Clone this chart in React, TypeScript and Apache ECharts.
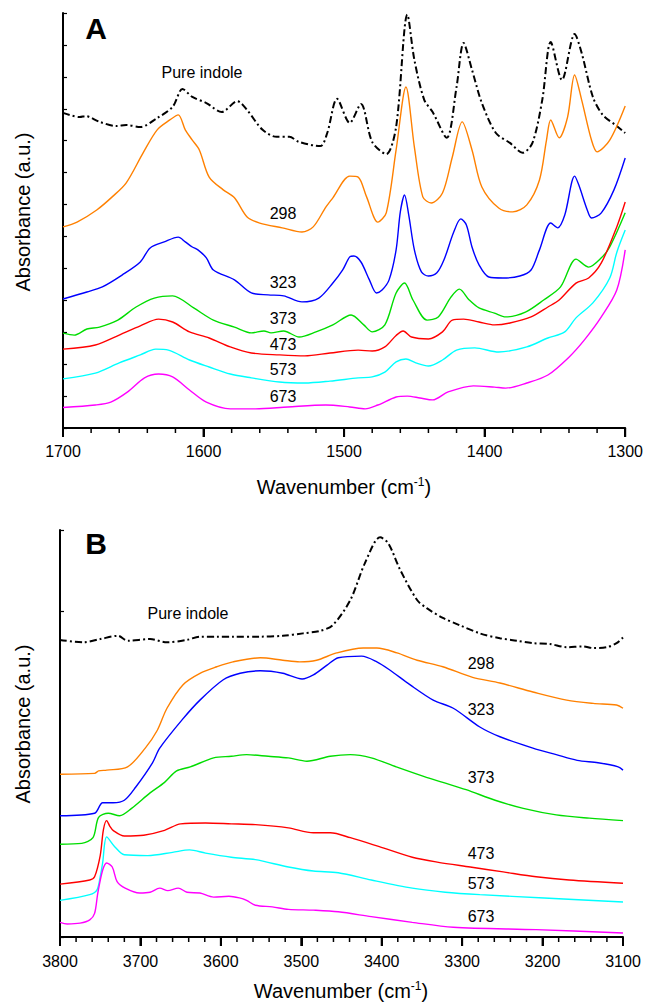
import React, { useEffect, useRef } from "react";
import * as echarts from "echarts";

// ---------- Panel A (1700-1300 cm-1) : [wavenumber, absorbance a.u.] ----------
const indoleA = [[1700,9.87],[1688,9.74],[1684,9.77],[1674,9.59],[1662,9.46],[1655,9.49],[1645,9.43],[1633,9.71],[1622,10.06],[1615,10.62],[1608,10.37],[1598,10.18],[1587,9.9],[1576,10.24],[1569,9.96],[1558,9.34],[1548,9.12],[1539,9.12],[1532,8.96],[1517,8.83],[1512,9.24],[1505,10.31],[1496,9.56],[1488,10.15],[1480,8.96],[1470,8.58],[1463,9.43],[1455,12.95],[1450,11.53],[1443,10.28],[1437,9.9],[1427,9.09],[1420,10.68],[1415,12.06],[1409,11.22],[1402,10.18],[1392,9.24],[1382,8.93],[1373,8.62],[1366,8.93],[1359,10.28],[1353,12.09],[1345,10.9],[1336,12.34],[1331,11.75],[1323,10.37],[1316,9.81],[1306,9.46],[1300,9.24]];
const k298A = [[1700,6.3],[1690,6.45],[1676,6.83],[1665,7.24],[1655,7.68],[1643,8.62],[1633,9.34],[1624,9.65],[1618,9.81],[1613,9.34],[1608,9.02],[1603,8.71],[1596,7.86],[1586,7.46],[1578,7.21],[1569,6.61],[1560,6.42],[1544,6.27],[1530,6.14],[1522,6.3],[1513,6.92],[1508,7.21],[1496,7.89],[1490,7.86],[1484,7.24],[1476,6.45],[1470,6.74],[1463,8.71],[1456,10.68],[1450,8.8],[1444,7.24],[1438,7.05],[1430,7.36],[1423,8.49],[1416,9.59],[1409,8.71],[1402,7.55],[1390,6.89],[1380,6.77],[1370,6.99],[1361,7.77],[1356,9.02],[1353,9.65],[1347,9.09],[1341,9.74],[1336,11.06],[1331,10.28],[1324,9.02],[1320,8.65],[1311,9.02],[1300,10.09]];
const k323A = [[1700,4.04],[1683,4.26],[1672,4.42],[1658,4.79],[1645,5.2],[1638,5.64],[1628,5.83],[1618,5.98],[1613,5.83],[1608,5.67],[1604,5.58],[1598,5.33],[1593,4.95],[1578,4.64],[1566,4.23],[1554,4.17],[1543,4.14],[1530,3.95],[1518,4.07],[1508,4.54],[1501,4.95],[1496,5.36],[1493,5.39],[1488,5.2],[1482,4.64],[1477,4.23],[1473,4.32],[1468,4.64],[1463,5.58],[1460,6.77],[1457,7.3],[1454,6.67],[1450,5.58],[1445,4.89],[1440,4.76],[1434,4.86],[1429,5.26],[1422,6.14],[1417,6.55],[1413,6.36],[1409,5.67],[1404,5.11],[1397,4.73],[1387,4.7],[1375,4.76],[1367,4.95],[1361,5.58],[1353,6.42],[1348,6.27],[1343,6.67],[1336,7.89],[1333,7.61],[1327,6.83],[1324,6.58],[1317,6.74],[1308,7.46],[1300,8.46]];
const k373A = [[1700,2.97],[1692,2.91],[1683,3.1],[1674,3.16],[1661,3.38],[1648,3.79],[1635,4.07],[1622,4.14],[1607,3.76],[1593,3.38],[1578,3.16],[1566,2.98],[1557,3.04],[1552,2.98],[1543,3.04],[1532,2.85],[1520,3.01],[1508,3.23],[1495,3.54],[1486,3.23],[1480,3.01],[1471,3.23],[1463,4.23],[1457,4.54],[1451,4.01],[1441,3.38],[1433,3.48],[1424,4.1],[1418,4.35],[1411,4.01],[1404,3.76],[1393,3.6],[1385,3.48],[1371,3.63],[1358,4.01],[1346,4.42],[1335,5.29],[1326,5.04],[1317,5.33],[1311,5.67],[1300,6.74]];
const k473A = [[1700,2.47],[1677,2.6],[1660,2.91],[1645,3.2],[1632,3.41],[1622,3.32],[1610,3.01],[1596,2.82],[1581,2.54],[1566,2.35],[1546,2.29],[1528,2.26],[1510,2.35],[1490,2.44],[1480,2.41],[1471,2.54],[1463,2.9],[1458,3.04],[1452,2.85],[1440,2.79],[1430,3.01],[1423,3.38],[1415,3.41],[1404,3.32],[1393,3.23],[1382,3.29],[1367,3.48],[1355,3.79],[1347,4.01],[1335,4.54],[1326,4.7],[1317,5.17],[1306,6.3],[1300,7.08]];
const k573A = [[1700,1.54],[1677,1.72],[1660,2.04],[1645,2.29],[1634,2.47],[1625,2.44],[1610,2.13],[1596,1.91],[1581,1.69],[1566,1.57],[1546,1.44],[1528,1.41],[1510,1.47],[1490,1.57],[1480,1.6],[1471,1.75],[1463,2.07],[1456,2.16],[1449,2.04],[1440,1.94],[1430,2.13],[1420,2.44],[1407,2.51],[1390,2.38],[1370,2.54],[1355,2.82],[1343,3.01],[1335,3.45],[1323,3.92],[1311,4.7],[1306,5.5],[1300,6.2]];
const k673A = [[1700,0.64],[1677,0.72],[1666,0.81],[1654,1.13],[1642,1.57],[1632,1.69],[1622,1.6],[1610,1.19],[1598,0.81],[1581,0.6],[1563,0.6],[1540,0.66],[1513,0.72],[1496,0.66],[1485,0.6],[1476,0.72],[1463,0.97],[1455,1.0],[1446,0.94],[1437,0.88],[1426,1.13],[1408,1.32],[1393,1.28],[1385,1.25],[1370,1.41],[1355,1.66],[1340,2.22],[1329,2.76],[1317,3.48],[1306,4.32],[1300,5.58]];

// ---------- Panel B (3800-3100 cm-1) ----------
const indoleB = [[3800,3.65],[3771,3.62],[3750,3.66],[3728,3.7],[3716,3.64],[3688,3.66],[3667,3.62],[3642,3.65],[3626,3.69],[3605,3.69],[3585,3.69],[3551,3.69],[3523,3.7],[3498,3.73],[3477,3.76],[3461,3.83],[3439,4.14],[3421,4.59],[3402,4.91],[3392,4.84],[3377,4.51],[3356,4.14],[3344,4.04],[3324,3.92],[3303,3.83],[3278,3.73],[3253,3.67],[3232,3.64],[3212,3.61],[3191,3.6],[3170,3.56],[3150,3.57],[3137,3.55],[3120,3.56],[3108,3.61],[3100,3.68]];
const k298B = [[3800,2.0],[3757,2.01],[3752,2.04],[3742,2.05],[3716,2.09],[3694,2.32],[3679,2.54],[3667,2.81],[3647,3.1],[3626,3.24],[3605,3.32],[3585,3.38],[3551,3.43],[3523,3.4],[3502,3.38],[3481,3.4],[3456,3.49],[3423,3.55],[3406,3.55],[3381,3.49],[3356,3.4],[3324,3.32],[3287,3.19],[3253,3.12],[3212,3.01],[3170,2.91],[3137,2.87],[3108,2.85],[3100,2.81]];
const k323B = [[3800,1.49],[3757,1.52],[3747,1.65],[3734,1.65],[3720,1.68],[3706,1.84],[3685,2.14],[3676,2.32],[3648,2.67],[3626,2.91],[3597,3.16],[3576,3.24],[3551,3.27],[3523,3.24],[3499,3.17],[3485,3.22],[3468,3.34],[3454,3.43],[3425,3.45],[3406,3.38],[3390,3.28],[3365,3.1],[3336,2.91],[3311,2.81],[3278,2.58],[3253,2.46],[3212,2.32],[3183,2.24],[3157,2.17],[3131,2.14],[3106,2.09],[3100,2.05]];
const k373B = [[3800,1.14],[3773,1.15],[3759,1.22],[3752,1.47],[3740,1.52],[3726,1.49],[3711,1.58],[3688,1.77],[3670,1.9],[3655,2.04],[3638,2.09],[3609,2.2],[3587,2.22],[3568,2.24],[3541,2.22],[3516,2.2],[3493,2.16],[3464,2.22],[3439,2.24],[3413,2.2],[3382,2.09],[3347,1.97],[3324,1.9],[3295,1.81],[3259,1.68],[3224,1.58],[3183,1.5],[3142,1.46],[3100,1.43]];
const k473B = [[3800,0.65],[3763,0.7],[3757,0.74],[3750,1.0],[3746,1.32],[3742,1.43],[3738,1.36],[3734,1.31],[3720,1.24],[3696,1.25],[3670,1.31],[3650,1.39],[3619,1.4],[3587,1.39],[3557,1.38],[3516,1.34],[3485,1.28],[3464,1.28],[3439,1.22],[3403,1.11],[3362,0.98],[3331,0.92],[3290,0.86],[3249,0.8],[3208,0.74],[3167,0.7],[3100,0.66]];
const k573B = [[3800,0.45],[3763,0.52],[3754,0.58],[3750,0.74],[3747,0.91],[3742,1.23],[3732,1.11],[3720,1.01],[3691,1.0],[3660,1.04],[3639,1.07],[3619,1.03],[3587,0.98],[3557,0.95],[3516,0.86],[3485,0.81],[3454,0.79],[3413,0.7],[3362,0.6],[3321,0.55],[3278,0.52],[3198,0.48],[3100,0.43]];
const k673B = [[3800,0.18],[3791,0.16],[3775,0.17],[3763,0.21],[3757,0.29],[3753,0.54],[3747,0.82],[3742,0.91],[3735,0.86],[3729,0.68],[3719,0.6],[3701,0.54],[3688,0.55],[3676,0.6],[3666,0.57],[3653,0.6],[3642,0.55],[3626,0.54],[3609,0.49],[3590,0.5],[3577,0.48],[3568,0.45],[3557,0.39],[3536,0.37],[3516,0.34],[3485,0.33],[3454,0.31],[3413,0.25],[3362,0.18],[3311,0.12],[3208,0.09],[3100,0.05]];

const temperatures = ["298", "323", "373", "473", "573", "673"];
const colors = ["#FF8000", "#0000FF", "#00DD00", "#FF0000", "#00FFFF", "#FF00FF"];
const seriesA = [k298A, k323A, k373A, k473A, k573A, k673A];
const seriesB = [k298B, k323B, k373B, k473B, k573B, k673B];

// x-axis tick values (major every 100, minor every 20)
const tickStep = 20;
const majorStep = 100;
const rangeA = [1300, 1700];
const rangeB = [3100, 3800];

const FONT = "Liberation Sans";

export default function App() {
  const ref = useRef<HTMLDivElement>(null);
  useEffect(() => {
    if (!ref.current) return;
    const chart = echarts.init(ref.current, null, { renderer: "svg" });

    const xAxisBase = (min: number, max: number, grid: number, margin: number) => ({
      type: "value",
      gridIndex: grid,
      position: "bottom",
      min,
      max,
      interval: majorStep,
      inverse: true,
      axisLine: { show: true, onZero: false, lineStyle: { color: "#000", width: 2 } },
      axisTick: { show: true, inside: false, length: 9, lineStyle: { color: "#000", width: 2 } },
      axisLabel: {
        color: "#000",
        fontSize: 16,
        fontFamily: FONT,
        margin,
        formatter: (v: number) => String(v),
      },
      splitLine: { show: false },
    });

    const yAxisBase = (idx: number, max: number, interval: number) => ({
      type: "value",
      gridIndex: idx,
      min: 0,
      max,
      interval,
      axisLine: { show: true, onZero: false, lineStyle: { color: "#000", width: 2 } },
      axisTick: { show: true, inside: true, length: 4, lineStyle: { color: "#000", width: 1.2 } },
      axisLabel: { show: false },
      splitLine: { show: false },
    });

    const lineSeries = (data: number[][], color: string, idx: number, dash?: boolean) => ({
      type: "line",
      xAxisIndex: idx,
      yAxisIndex: idx,
      data,
      symbol: "none",
      smooth: 0.3,
      clip: false,
      lineStyle: dash
        ? { color: "#000", width: 2, type: [7, 3, 2, 3] }
        : { color, width: 1.4 },
    });

    const series: any[] = [];
    series.push(lineSeries(indoleA, "#000", 0, true));
    seriesA.forEach((d, i) => series.push(lineSeries(d, colors[i], 0)));
    series.push(lineSeries(indoleB, "#000", 1, true));
    seriesB.forEach((d, i) => series.push(lineSeries(d, colors[i], 1)));

    const txt = (x: number, y: number, text: string, size = 16, weight: any = "normal") => ({
      type: "text",
      x,
      y,
      style: {
        text,
        fill: "#000",
        font: `${weight} ${size}px ${FONT}`,
        textAlign: "center",
        textVerticalAlign: "middle",
      },
    });

    const posA = [213, 282, 318, 344, 369, 396];
    const posB = [663, 709, 777, 853, 883, 916];

    const yTitle = (y: number) => ({
      type: "text",
      x: 23,
      y,
      rotation: Math.PI / 2,
      style: {
        text: "Absorbance (a.u.)",
        fill: "#000",
        font: `normal 20px ${FONT}`,
        textAlign: "center",
        textVerticalAlign: "middle",
      },
    });

    const xTitle = (x: number, y: number) => ({
      type: "text",
      x,
      y,
      style: {
        text: "Wavenumber (cm{sup|-1})",
        fill: "#000",
        font: `normal 20px ${FONT}`,
        fontSize: 20,
        fontFamily: FONT,
        textAlign: "center",
        textVerticalAlign: "middle",
        rich: {
          sup: { fontSize: 12, fontFamily: FONT, fill: "#000", verticalAlign: "top", lineHeight: 22 },
        },
      },
    });

    const graphic: any[] = [
      txt(96, 28, "A", 30, "bold"),
      txt(96, 543, "B", 30, "bold"),
      txt(202, 72, "Pure indole"),
      txt(188, 613, "Pure indole"),
      yTitle(212),
      yTitle(724),
      xTitle(344, 487),
      xTitle(341, 991),
    ];
    temperatures.forEach((t, i) => {
      graphic.push(txt(283, posA[i], t));
      graphic.push(txt(481, posB[i], t));
    });

    chart.setOption({
      animation: false,
      backgroundColor: "#fff",
      grid: [
        { left: 63, top: 13, width: 563, height: 415 },
        { left: 60, top: 530, width: 563, height: 407 },
      ],
      xAxis: [xAxisBase(rangeA[0], rangeA[1], 0, 15), xAxisBase(rangeB[0], rangeB[1], 1, 16)],
      yAxis: [yAxisBase(0, 13, 1), yAxisBase(1, 5, 4)],
      series,
      graphic,
    });

    // x-axis ticks placed through the chart's own scales
    const tickGraphics: any[] = [];
    const addTicks = (range: number[], gridIndex: number) => {
      for (let v = range[0]; v <= range[1]; v += tickStep) {
        const p = chart.convertToPixel({ gridIndex } as any, [v, 0]) as number[];
        if (!p) continue;
        const major = v % majorStep === 0;
        tickGraphics.push({
          type: "line",
          silent: true,
          z: 100,
          shape: { x1: p[0], y1: p[1], x2: p[0], y2: p[1] + (major ? 9 : 5) },
          style: { stroke: "#000", lineWidth: major ? 2 : 1.5 },
        });
      }
    };
    addTicks(rangeA, 0);
    addTicks(rangeB, 1);
    chart.setOption({ graphic: graphic.concat(tickGraphics) });

    return () => chart.dispose();
  }, []);

  return (
    <div
      ref={ref}
      style={{ position: "absolute", left: 0, top: 0, width: 646, height: 1004, background: "#fff" }}
    />
  );
}
